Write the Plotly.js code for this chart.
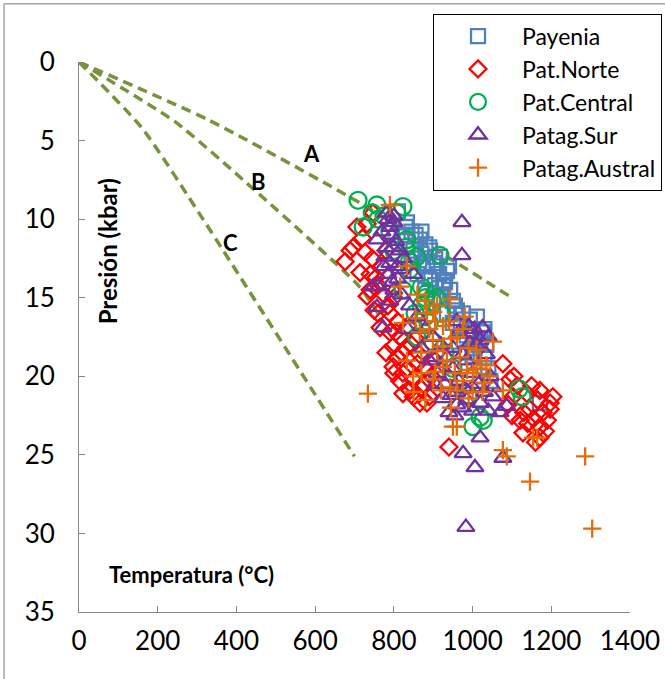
<!DOCTYPE html>
<html>
<head>
<meta charset="utf-8">
<script src="https://cdn.plot.ly/plotly-3.0.1.min.js"></script>
<style>
  html, body { margin: 0; padding: 0; background: #fff; }
  #chart { width: 665px; height: 679px; }
</style>
</head>
<body>
<div id="chart"></div>
<script>
// Temperature (°C) and pressure (kbar) estimates per region
const payeniaT = [810, 833, 845, 866, 880, 892, 874, 905, 917, 909, 925, 935, 943, 925, 950, 960, 975, 993, 1011, 1000, 1027, 1015, 1030, 1040, 985, 1045, 1020, 1171, 860, 880, 900, 820, 850,
  830, 855, 870, 890, 900, 915, 930, 890, 905, 870, 940, 955, 970, 985, 1005, 1020, 1035, 1000, 965, 845, 885, 920, 935, 950, 1030];
const payeniaP = [9.5, 10.2, 10.8, 11.3, 11.6, 12.0, 12.8, 12.4, 12.4, 13.0, 13.9, 13.3, 14.5, 14.3, 15.2, 15.8, 16.0, 16.4, 16.2, 17.0, 17.2, 18.0, 18.8, 19.5, 18.5, 20.3, 20.0, 21.7, 13.5, 14.5, 15.0, 11.0, 12.0,
  10.5, 11.0, 10.8, 11.8, 12.8, 13.5, 14.0, 13.8, 14.2, 12.2, 13.0, 15.5, 16.8, 17.4, 18.2, 17.6, 18.0, 18.7, 17.8, 12.5, 13.0, 15.0, 16.0, 16.6, 17.0];

const norteT = [706, 696, 676, 714, 727, 740, 732, 760, 765, 750, 785, 798, 808, 790, 823, 841, 866, 884, 823, 798, 849, 815, 830, 860, 845, 875, 900, 880, 810, 800, 835, 855, 770, 780, 865, 895, 905, 747, 732, 689,
  720, 745, 755, 775, 790, 805, 820, 835, 850, 870, 890, 815, 800, 780, 760, 740,
  1077, 1095, 1103, 1113, 1138, 1171, 1197, 1204, 1146, 1179, 1197, 1121, 1171, 1128, 1171, 1155, 1185, 1160, 1090, 1130, 1100, 1140, 1190, 1165, 1150, 1105, 940];
const norteP = [10.5, 11.8, 12.7, 13.4, 12.1, 13.5, 14.9, 14.2, 16.9, 15.8, 15.5, 18.1, 18.8, 17.2, 19.8, 20.9, 21.7, 21.7, 21.1, 19.4, 20.2, 17.5, 18.2, 19.2, 18.0, 20.5, 21.0, 19.5, 16.5, 15.0, 16.8, 17.6, 13.0, 12.0, 18.6, 20.0, 19.0, 9.6, 10.3, 12.0,
  11.2, 12.5, 13.7, 14.8, 16.0, 17.2, 18.5, 19.5, 21.3, 20.8, 21.3, 20.3, 19.8, 18.5, 16.0, 14.5,
  19.2, 20.2, 21.3, 20.6, 21.1, 20.9, 21.7, 21.3, 22.1, 22.3, 22.1, 22.8, 23.2, 23.6, 23.9, 22.7, 23.5, 24.2, 21.8, 22.3, 22.5, 23.0, 22.8, 21.5, 20.6, 20.0, 24.5];

const centralT = [709, 757, 808, 823, 722, 760, 790, 833, 858, 917, 823, 884, 909, 854, 858, 880, 900, 930, 950, 990, 1019, 1027, 1001, 1126, 1118, 840, 870, 800,
  880, 900, 920, 890, 745, 775, 830, 870, 840];
const centralP = [8.8, 9.1, 9.6, 9.2, 10.5, 10.0, 10.8, 11.3, 12.4, 12.3, 14.5, 14.7, 15.0, 16.0, 17.5, 16.2, 17.8, 18.5, 19.5, 21.2, 22.6, 22.8, 23.2, 21.3, 20.8, 13.2, 15.5, 12.0,
  15.0, 15.3, 16.0, 16.6, 9.6, 9.8, 11.8, 14.3, 12.7];

const surT = [782, 790, 757, 798, 777, 808, 770, 800, 815, 760, 757, 772, 795, 820, 790, 840, 860, 835, 880, 900, 920, 870, 890, 910, 935, 950, 930, 945, 960, 940, 975, 965, 985, 1000, 1015, 1030, 1010, 1035, 1052, 1070, 1019, 976, 1006, 1077, 983, 973, 973, 990, 960, 980, 1000, 1045, 850, 747, 993, 1019, 1052, 1087,
  785, 795, 780, 805, 790, 810, 785, 800, 775, 815, 825, 800, 965, 990, 1005, 1025, 1040, 900, 920, 940, 960, 985, 1000, 1020, 1040, 955, 905, 925, 975, 950];
const surP = [9.6, 10.5, 11.3, 11.8, 12.4, 13.0, 10.8, 10.2, 12.0, 14.3, 15.6, 16.9, 14.0, 14.8, 15.2, 15.5, 16.2, 17.0, 17.0, 17.5, 18.0, 18.2, 19.0, 19.8, 18.8, 19.5, 20.5, 21.2, 21.8, 22.3, 22.0, 20.3, 19.0, 19.8, 20.5, 21.0, 18.0, 18.6, 21.3, 22.3, 23.9, 24.9, 25.8, 25.2, 29.6, 10.2, 12.3, 16.8, 16.5, 20.8, 22.2, 20.0, 13.5, 14.3, 17.9, 17.7, 20.7, 21.9,
  10.0, 11.0, 11.8, 11.4, 12.8, 13.8, 13.5, 14.5, 13.0, 13.2, 12.5, 9.8, 17.2, 17.3, 17.0, 16.9, 17.5, 18.8, 19.5, 20.0, 21.0, 21.5, 20.7, 21.7, 22.2, 22.5, 20.5, 21.4, 18.6, 18.2];

const australT = [790, 833, 816, 943, 884, 899, 925, 968, 986, 1001, 1044, 833, 849, 899, 943, 823, 866, 925, 1052, 734, 960, 950, 1077, 1087, 1146, 1286, 1304, 1164, 1154, 1077, 910, 870, 960, 1020, 1000, 880, 860, 905, 940, 975, 1010, 1030,
  880, 900, 925, 945, 890, 910, 935, 955, 975, 990, 1010, 1025, 905, 870, 855, 920, 960, 990, 1035, 850, 945, 980];
const australP = [9.1, 13.0, 14.3, 15.1, 16.0, 17.7, 18.1, 18.8, 19.6, 19.8, 20.0, 19.0, 20.0, 20.2, 20.7, 16.6, 17.2, 19.4, 17.8, 21.1, 23.2, 23.2, 24.7, 25.1, 26.7, 25.1, 29.7, 23.9, 23.9, 20.9, 15.5, 18.5, 17.5, 19.0, 21.0, 21.5, 14.8, 16.5, 16.5, 17.0, 18.3, 20.4,
  15.2, 15.9, 16.8, 17.6, 17.0, 18.4, 19.0, 19.8, 20.3, 18.2, 19.5, 21.0, 19.7, 19.8, 16.3, 20.9, 20.9, 21.4, 19.3, 21.0, 22.0, 16.2];

// Reference geotherms A, B and C
const geoAT = [0, 330, 709, 1100];
const geoAP = [0, 3.7, 8.9, 15.0];
const geoBT = [0, 244, 417, 709, 760];
const geoBP = [0, 3.8, 7.5, 14.2, 16.0];
const geoCT = [0, 160, 315, 700];
const geoCP = [0, 4.2, 10.0, 25.1];
const geoLabels = ['A', 'B', 'C'];
const geoLabelT = [592, 455, 384];
const geoLabelP = [5.8, 7.6, 11.5];

const xTicks = [0, 200, 400, 600, 800, 1000, 1200, 1400];
const yTicks = [0, 5, 10, 15, 20, 25, 30, 35];

const FONT = 'Lato, "Open Sans", sans-serif';
const GEO_COLOR = '#77933C';
const AXIS_COLOR = '#868686';

function geotherm(t, p) {
  return {
    x: t, y: p, type: 'scatter', mode: 'lines', showlegend: false, hoverinfo: 'skip',
    line: { color: GEO_COLOR, width: 3.5, dash: '10px,6px', shape: 'spline', smoothing: 0.6 }
  };
}

function series(name, t, p, symbol, color, size) {
  return {
    x: t, y: p, name: name, type: 'scatter', mode: 'markers',
    marker: { symbol: symbol, size: size, color: color, line: { color: color, width: 2.3 } }
  };
}

const traces = [
  geotherm(geoAT, geoAP),
  geotherm(geoBT, geoBP),
  geotherm(geoCT, geoCP),
  series('Payenia', payeniaT, payeniaP, 'square-open', '#4F81BD', 14),
  series('Pat.Norte', norteT, norteP, 'diamond-open', '#FF0000', 13),
  series('Pat.Central', centralT, centralP, 'circle-open', '#00B050', 17),
  series('Patag.Sur', surT, surP, 'triangle-up-open', '#7030A0', 15),
  series('Patag.Austral', australT, australP, 'cross-thin-open', '#E36C09', 13)
];

const annotations = geoLabels.map((lab, i) => ({
  x: geoLabelT[i], y: geoLabelP[i], xref: 'x', yref: 'y', text: '<b>' + lab + '</b>',
  showarrow: false, font: { family: FONT, size: 22, color: '#000' }
}));
annotations.push({
  x: 0.022, y: 0.655, xref: 'paper', yref: 'paper', text: '<b>Presión (kbar)</b>',
  textangle: -90, showarrow: false, font: { family: FONT, size: 24, color: '#000' }
});
annotations.push({
  x: 0.05, y: 0.04, xref: 'paper', yref: 'paper', xanchor: 'left', text: '<b>Temperatura (°C)</b>',
  showarrow: false, font: { family: FONT, size: 22, color: '#000' }
});

const layout = {
  width: 665, height: 679,
  margin: { l: 79, r: 35, t: 62, b: 67, autoexpand: false },
  paper_bgcolor: '#fff', plot_bgcolor: '#fff',
  font: { family: FONT, color: '#000' },
  showlegend: true,
  legend: {
    x: 0.6425, y: 1.088, xanchor: 'left', yanchor: 'top',
    bgcolor: '#fff', bordercolor: '#000', borderwidth: 1,
    font: { family: FONT, size: 23, color: '#000' }, itemwidth: 78
  },
  xaxis: {
    range: [0, 1400], tickvals: xTicks, ticktext: xTicks.map(String),
    showline: true, linecolor: AXIS_COLOR, linewidth: 1, ticks: 'inside', ticklen: 6, tickcolor: AXIS_COLOR,
    showgrid: false, zeroline: false, tickfont: { family: FONT, size: 26, color: '#000' }, ticklabelstandoff: 6
  },
  yaxis: {
    range: [35, 0], tickvals: yTicks, ticktext: yTicks.map(String),
    showline: true, linecolor: AXIS_COLOR, linewidth: 1, ticks: 'inside', ticklen: 6, tickcolor: AXIS_COLOR,
    showgrid: false, zeroline: false, tickfont: { family: FONT, size: 26, color: '#000' }, ticklabelstandoff: 18
  },
  annotations: annotations,
  shapes: [
    { type: 'line', xref: 'paper', yref: 'paper', x0: -0.136, x1: -0.136, y0: 1.106, y1: -0.2, line: { color: '#a6a6a6', width: 1.5 } },
    { type: 'line', xref: 'paper', yref: 'paper', x0: -0.136, x1: 1.1, y0: 1.106, y1: 1.106, line: { color: '#a6a6a6', width: 1.5 } }
  ],
  hovermode: false
};

Plotly.newPlot('chart', traces, layout, { displayModeBar: false, staticPlot: true });
</script>
</body>
</html>
